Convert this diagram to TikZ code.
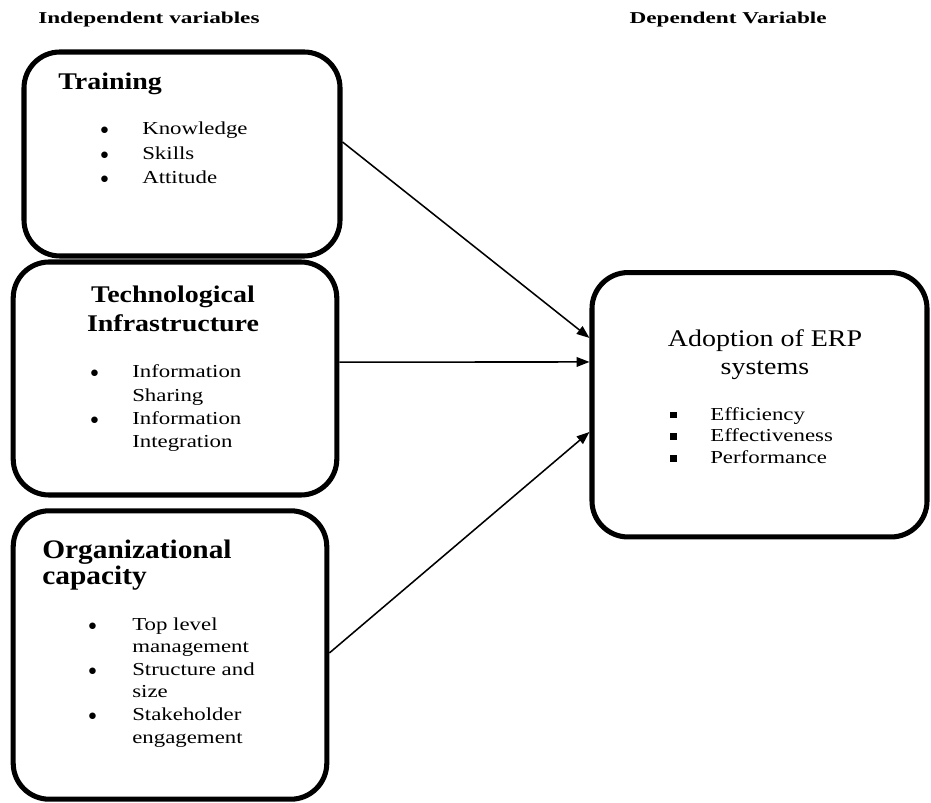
\documentclass[tikz,border=0pt]{standalone}
\usepackage{fontspec}
\setmainfont{Liberation Serif}[FakeStretch=1.25]
\newfontfamily\titlefont{Liberation Serif}[FakeStretch=1.17]
\newfontfamily\orgfont{Liberation Serif}[FakeStretch=1.1]
\newfontfamily\hdrfont{Liberation Serif}[FakeStretch=1.4]
\usepackage{tikz}
\usetikzlibrary{arrows.meta, calc}
\tikzset{
  varbox/.style={
    draw=black, line width=3.6pt, rounded corners=0.9cm,
    inner sep=0pt
  },
  hdr/.style={inner sep=0pt, font=\hdrfont\bfseries\fontsize{11.8}{14}\selectfont},
  boxtitle/.style={inner sep=0pt, font=\titlefont\bfseries\fontsize{17}{20.6}\selectfont},
  itemlist/.style={inner sep=0pt, anchor=base west},
  arrow/.style={-{Triangle[length=3.2mm,width=2.4mm]}, line width=1.1pt}
}

\begin{document}
\begin{tikzpicture}
\useasboundingbox (0,0) rectangle (23.275,-20.075);

%% Column headers
\node[hdr, anchor=base west] (hdrind) at (0.95,-0.6) {Independent variables};
\node[hdr, anchor=base east] (hdrdep) at (20.675,-0.6) {Dependent Variable};

%% Boxes
\node[varbox, minimum width=7.9cm, minimum height=5.1cm] (train) at (4.55,-3.85) {};
\node[varbox, minimum width=8.09cm, minimum height=5.825cm] (tech) at (4.375,-9.4625) {};
\node[varbox, minimum width=7.84cm, minimum height=7.21cm] (org) at (4.25,-16.375) {};
\node[varbox, minimum width=8.375cm, minimum height=6.61cm] (erp) at (18.9875,-10.119) {};

%% Training
\node[boxtitle, anchor=base west] (traintitle) at (1.45,-2.25) {Training};
\node[itemlist, font=\fontsize{13}{17.4}\selectfont] (trainlist) at (2.5,-3.375)
  {\begin{tabular}[t]{@{}p{1.05cm}@{}l@{}}
   $\bullet$ & Knowledge\\
   $\bullet$ & Skills\\
   $\bullet$ & Attitude
   \end{tabular}};

%% Technological infrastructure
\node[boxtitle, anchor=base] (techtitle) at (4.325,-7.575)
  {\begin{tabular}[t]{@{}c@{}}Technological\\ Infrastructure\end{tabular}};
\node[itemlist, font=\fontsize{13}{16.4}\selectfont] (techlist) at (2.25,-9.45)
  {\begin{tabular}[t]{@{}p{1.05cm}@{}l@{}}
   $\bullet$ & Information\\
             & Sharing\\
   $\bullet$ & Information\\
             & Integration
   \end{tabular}};

%% Organizational capacity
\node[inner sep=0pt, anchor=base west, font=\orgfont\bfseries\fontsize{19}{19.2}\selectfont] (orgtitle) at (1.05,-13.95)
  {\begin{tabular}[t]{@{}l@{}}Organizational\\ capacity\end{tabular}};
\node[itemlist, font=\fontsize{13}{16.1}\selectfont] (orglist) at (2.2,-15.75)
  {\begin{tabular}[t]{@{}p{1.1cm}@{}l@{}}
   $\bullet$ & Top level\\
             & management\\
   $\bullet$ & Structure and\\
             & size\\
   $\bullet$ & Stakeholder\\
             & engagement
   \end{tabular}};

%% Dependent variable
\node[inner sep=0pt, anchor=base, font=\titlefont\fontsize{17}{19.9}\selectfont] (erptitle) at (19.125,-8.675)
  {\begin{tabular}[t]{@{}c@{}}Adoption of ERP\\ systems\end{tabular}};
\node[itemlist, font=\fontsize{13}{15.6}\selectfont] (erplist) at (16.75,-10.5)
  {\begin{tabular}[t]{@{}p{1.0cm}@{}l@{}}
   \rule[1.5pt]{4.5pt}{4.5pt} & Efficiency\\
   \rule[1.5pt]{4.5pt}{4.5pt} & Effectiveness\\
   \rule[1.5pt]{4.5pt}{4.5pt} & Performance
   \end{tabular}};

%% Arrows
\draw[arrow] ([yshift=0.3cm]train.east) -- ([yshift=1.67cm]erp.west);
\draw[arrow] ([yshift=0.41cm]tech.east) -- ([yshift=1.07cm]erp.west);
\draw[arrow] ([yshift=0.05cm]org.east) -- ([yshift=-0.68cm]erp.west);
\end{tikzpicture}
\end{document}
